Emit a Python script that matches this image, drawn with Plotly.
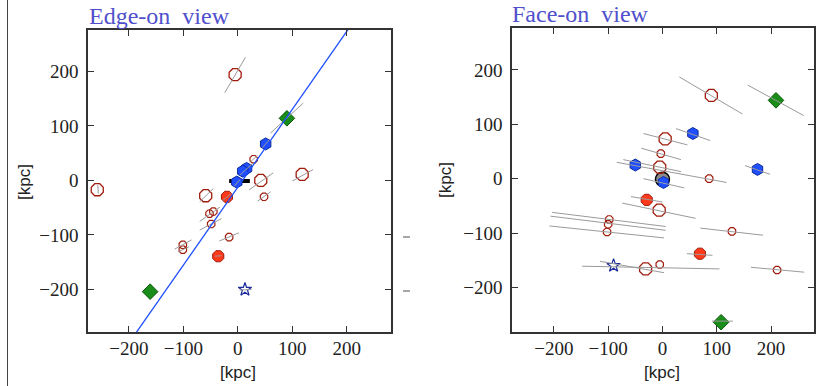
import plotly.graph_objects as go

# ---------------- Edge-on view data ----------------
edge_open_large_x = [-5, 42, 118, -59, -258]
edge_open_large_y = [194, 0, 11, -28, -17]
edge_open_small_x = [29, 48, -52, -45, -49, -16, -101, -101]
edge_open_small_y = [39, -30, -61, -57, -80, -104, -118, -127]
edge_red_x = [-20, -36]
edge_red_y = [-30, -139]
edge_blue_x = [51, 16, 9, -2]
edge_blue_y = [67, 22, 17, -3]
edge_green_x = [90, -161]
edge_green_y = [114, -204]
edge_star_x = [13]
edge_star_y = [-200]
edge_host_x = [-16, 22]
edge_host_y = [-1, -1]
edge_fit_x = [-190, 203]
edge_fit_y = [-284, 278]
# gray error segments: x1, y1, x2, y2
edge_seg_x1 = [-24, 60, 45, 4, 22, -257, 21, 100, 36, -70, -28, -70, -70, -34, -116, -110, -42, 3, -6]
edge_seg_y1 = [161, 87, 60, 10, 33, -8, -17, -1, -38, -39, -37, -75, -91, -111, -126, -131, -139, -201, -10]
edge_seg_x2 = [14, 120, 58, 28, 36, -256, 65, 138, 60, -45, -12, -33, -30, 2, -85, -90, -30, 25, 4]
edge_seg_y2 = [226, 142, 75, 32, 46, -24, 14, 20, -21, -15, -24, -49, -70, -96, -109, -122, -138, -200, 2]

# ---------------- Face-on view data ----------------
face_open_large_x = [90, 5, -5, -6, -31]
face_open_large_y = [153, 73, 21, -58, -166]
face_open_small_x = [-3, 86, -98, -100, -102, 128, -5, 211]
face_open_small_y = [46, 0, -75, -84, -98, -97, -158, -168]
face_red_x = [-29, 69]
face_red_y = [-39, -138]
face_blue_x = [56, -50, 175, 2]
face_blue_y = [83, 25, 17, -7]
face_green_x = [209, 108]
face_green_y = [144, -264]
face_star_x = [-90]
face_star_y = [-160]
face_host_x = [0]
face_host_y = [-1]
face_seg_x1 = [31, 157, 25, -35, -39, -84, -72, 152, -35, -58, -74, -203, -206, -208, 70, 45, -148, -115, 163, 91]
face_seg_y1 = [187, 172, 92, 83, 56, 30, 35, 24, 0, -33, -45, -62, -69, -87, -91, -138, -161, -152, -163, -262]
face_seg_x2 = [147, 260, 88, 46, 34, 118, 34, 198, 40, 0, 61, 6, 6, 3, 185, 92, 105, 3, 261, 130]
face_seg_y2 = [119, 116, 70, 62, 35, -7, 13, 8, -17, -43, -73, -88, -95, -109, -104, -141, -166, -173, -172, -262]

tick_vals = [-200, -100, 0, 100, 200]
tick_text = ["\u2212200", "\u2212100", "0", "100", "200"]

RED_DARK = "#a01c0c"
RED_FILL = "#ff3a1a"
BLUE_FILL = "#1f4fff"
BLUE_EDGE = "#0a2a9a"
GREEN_FILL = "#1a8c1a"
GREEN_EDGE = "#0d5a0d"
STAR = "#1a2a9a"
SEG = "#9a9a9a"


def segs(x1, y1, x2, y2):
    xs, ys = [], []
    for a, b, c, d in zip(x1, y1, x2, y2):
        xs += [a, c, None]
        ys += [b, d, None]
    return xs, ys


fig = go.Figure()


def add_panel(xa, ya, ol_x, ol_y, os_x, os_y, r_x, r_y, b_x, b_y, g_x, g_y, s_x, s_y, sx1, sy1, sx2, sy2):
    fig.add_trace(go.Scatter(x=ol_x, y=ol_y, mode="markers", xaxis=xa, yaxis=ya,
                             marker=dict(symbol="octagon-open", size=13, color=RED_DARK, line=dict(width=1.3))))
    fig.add_trace(go.Scatter(x=os_x, y=os_y, mode="markers", xaxis=xa, yaxis=ya,
                             marker=dict(symbol="octagon-open", size=8, color=RED_DARK, line=dict(width=1.2))))
    fig.add_trace(go.Scatter(x=r_x, y=r_y, mode="markers", xaxis=xa, yaxis=ya,
                             marker=dict(symbol="octagon", size=12, color=RED_FILL,
                                         line=dict(color=RED_DARK, width=1))))
    fig.add_trace(go.Scatter(x=b_x, y=b_y, mode="markers", xaxis=xa, yaxis=ya,
                             marker=dict(symbol="hexagon", size=12, color=BLUE_FILL,
                                         line=dict(color=BLUE_EDGE, width=1))))
    fig.add_trace(go.Scatter(x=g_x, y=g_y, mode="markers", xaxis=xa, yaxis=ya,
                             marker=dict(symbol="diamond", size=12, color=GREEN_FILL,
                                         line=dict(color=GREEN_EDGE, width=1))))
    fig.add_trace(go.Scatter(x=s_x, y=s_y, mode="markers", xaxis=xa, yaxis=ya,
                             marker=dict(symbol="star-open", size=10, color=STAR, line=dict(width=1.2))))
    xs, ys = segs(sx1, sy1, sx2, sy2)
    fig.add_trace(go.Scatter(x=xs, y=ys, mode="lines", xaxis=xa, yaxis=ya,
                             line=dict(color=SEG, width=1), connectgaps=False))


# Edge-on host disk (black bar)
fig.add_trace(go.Scatter(x=edge_host_x, y=edge_host_y, mode="lines", xaxis="x", yaxis="y",
                         line=dict(color="black", width=4)))
add_panel("x", "y", edge_open_large_x, edge_open_large_y, edge_open_small_x, edge_open_small_y,
          edge_red_x, edge_red_y, edge_blue_x, edge_blue_y, edge_green_x, edge_green_y,
          edge_star_x, edge_star_y, edge_seg_x1, edge_seg_y1, edge_seg_x2, edge_seg_y2)
fig.add_trace(go.Scatter(x=edge_fit_x, y=edge_fit_y, mode="lines", xaxis="x", yaxis="y",
                         line=dict(color="#1f4fff", width=1.3)))

# Face-on host (gray ellipse)
fig.add_trace(go.Scatter(x=face_host_x, y=face_host_y, mode="markers", xaxis="x2", yaxis="y2",
                         marker=dict(symbol="circle", size=14, color="#8a8a8a",
                                     line=dict(color="black", width=1.5))))
add_panel("x2", "y2", face_open_large_x, face_open_large_y, face_open_small_x, face_open_small_y,
          face_red_x, face_red_y, face_blue_x, face_blue_y, face_green_x, face_green_y,
          face_star_x, face_star_y, face_seg_x1, face_seg_y1, face_seg_x2, face_seg_y2)

W, H = 820, 386


def px_x(p):
    return p / W


def px_y(p):
    return 1 - p / H


fig.update_layout(
    width=W, height=H, margin=dict(l=0, r=0, t=0, b=0),
    paper_bgcolor="white", plot_bgcolor="white", showlegend=False,
    xaxis=dict(domain=[px_x(88), px_x(391)], range=[-275, 281], anchor="y"),
    yaxis=dict(domain=[px_y(332), px_y(30)], range=[-278, 276], anchor="x"),
    xaxis2=dict(domain=[px_x(512), px_x(814)], range=[-277, 279], anchor="y2"),
    yaxis2=dict(domain=[px_y(332), px_y(28)], range=[-282, 277], anchor="x2"),
)

axis_style = dict(
    showline=True, mirror="ticks", linecolor="#333333", linewidth=1.5,
    ticks="inside", ticklen=6, tickwidth=1.3, tickcolor="#333333",
    tickmode="array", tickvals=tick_vals, ticktext=tick_text,
    showgrid=False, zeroline=False, fixedrange=True,
    tickfont=dict(family="Liberation Serif", size=19, color="#222222"),
)
fig.update_xaxes(ticklabelstandoff=-2, **axis_style)
fig.update_yaxes(ticklabelstandoff=4, **axis_style)

title_font = dict(family="Liberation Serif", size=24, color="#5050cc")
label_font = dict(family="Liberation Sans", size=17, color="#222222")
annotations = [
    dict(text="Edge-on\u00a0\u00a0view", x=px_x(87), y=px_y(31), xref="paper", yref="paper",
         xanchor="left", yanchor="bottom", showarrow=False, font=title_font),
    dict(text="Face-on\u00a0\u00a0view", x=px_x(510), y=px_y(29), xref="paper", yref="paper",
         xanchor="left", yanchor="bottom", showarrow=False, font=title_font),
    dict(text="[kpc]", x=px_x(238), y=px_y(372), xref="paper", yref="paper",
         xanchor="center", yanchor="middle", showarrow=False, font=label_font),
    dict(text="[kpc]", x=px_x(662), y=px_y(372), xref="paper", yref="paper",
         xanchor="center", yanchor="middle", showarrow=False, font=label_font),
    dict(text="[kpc]", x=px_x(24), y=px_y(182), xref="paper", yref="paper", textangle=-90,
         xanchor="center", yanchor="middle", showarrow=False, font=label_font),
    dict(text="[kpc]", x=px_x(445), y=px_y(180), xref="paper", yref="paper", textangle=-90,
         xanchor="center", yanchor="middle", showarrow=False, font=label_font),
]
fig.update_layout(annotations=annotations)

fig.update_layout(shapes=[
    dict(type="line", xref="paper", yref="paper", x0=px_x(7.5), x1=px_x(7.5), y0=0, y1=1,
         line=dict(color="#444444", width=1)),
    dict(type="line", xref="paper", yref="paper", x0=px_x(403), x1=px_x(410), y0=px_y(237), y1=px_y(237),
         line=dict(color="#777777", width=1.3)),
    dict(type="line", xref="paper", yref="paper", x0=px_x(403), x1=px_x(410), y0=px_y(291), y1=px_y(291),
         line=dict(color="#777777", width=1.3)),
])

fig.write_html("out.html")
